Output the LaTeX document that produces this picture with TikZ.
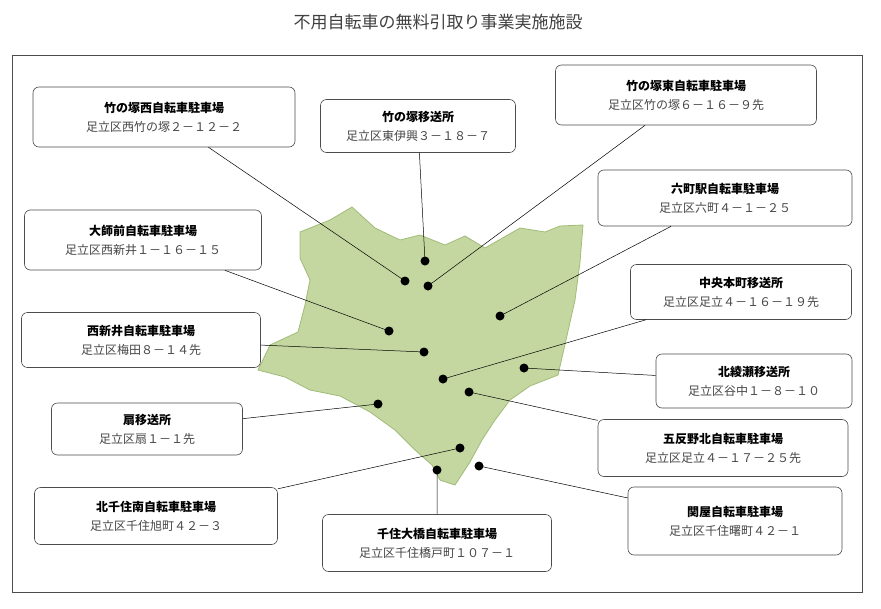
\documentclass[tikz,border=0pt]{standalone}
\usepackage{fontspec}
\setmainfont{Noto Sans CJK JP}
\usetikzlibrary{positioning}
\definecolor{mapfill}{RGB}{196,215,160}
\definecolor{mapline}{RGB}{160,188,120}
\definecolor{addr}{RGB}{70,70,70}
\newcommand{\fac}[2]{\textbf{#1}\\{\color{addr}#2}}
\begin{document}
\begin{tikzpicture}[x=1pt,y=-1pt,
      every node/.style={align=center, inner sep=0pt},
      box/.style={draw=black!70, fill=white, rounded corners=6pt, line width=0.6pt,
        font=\fontsize{12}{19}\selectfont},
      dot/.style={circle, fill=black, minimum size=9pt},
      lead/.style={draw=black, line width=0.5pt},
      ]
      \useasboundingbox (0,0) rectangle (881,608);
      \node[font=\fontsize{17}{20}\selectfont, text=black!75] (title) at (438,22) {不用自転車の無料引取り事業実施施設};
      \draw[black!70, line width=0.6pt] (12,55) rectangle (862,592);

      % map area
      \draw[fill=mapfill, draw=mapline, line width=0.8pt]
        (300,232) -- (330,220) -- (352,207) -- (375,228) -- (400,240) -- (420,235)
        -- (445,245) -- (465,236) -- (485,248) -- (520,228) -- (545,232) -- (560,226)
        -- (583,225) -- (580,262) -- (575,300) -- (566,340) -- (558,375) -- (530,386)
        -- (510,400) -- (495,420) -- (482,440) -- (470,462) -- (455,485) -- (440,480)
        -- (432,465) -- (415,450) -- (395,430) -- (370,412) -- (340,396) -- (310,390)
        -- (285,377) -- (258,370) -- (270,345) -- (298,332) -- (305,305) -- (310,280)
        -- (300,258) -- cycle;

      % facilities
      \node[dot] (d1) at (405,281) {};
      \node[dot] (d2) at (425,261) {};
      \node[dot] (d3) at (428,286) {};
      \node[dot] (d4) at (500,316) {};
      \node[dot] (d5) at (389,331) {};
      \node[dot] (d6) at (443,379) {};
      \node[dot] (d7) at (424,352) {};
      \node[dot] (d8) at (524,368) {};
      \node[dot] (d9) at (378,404) {};
      \node[dot] (d10) at (469,392) {};
      \node[dot] (d11) at (460,448) {};
      \node[dot] (d12) at (437,470) {};
      \node[dot] (d13) at (479,466) {};

      \node[box, minimum width=262pt, minimum height=60pt] (b1) at (164,117)
        {\fac{竹の塚西自転車駐車場}{足立区西竹の塚２－１２－２}};
      \node[box, minimum width=195pt, minimum height=53pt] (b2) at (418,126)
        {\fac{竹の塚移送所}{足立区東伊興３－１８－７}};
      \node[box, minimum width=261pt, minimum height=60pt] (b3) at (686,95)
        {\fac{竹の塚東自転車駐車場}{足立区竹の塚６－１６－９先}};
      \node[box, minimum width=254pt, minimum height=56pt] (b4) at (725,198)
        {\fac{六町駅自転車駐車場}{足立区六町４－１－２５}};
      \node[box, minimum width=237pt, minimum height=60pt] (b5) at (143,240)
        {\fac{大師前自転車駐車場}{足立区西新井１－１６－１５}};
      \node[box, minimum width=221pt, minimum height=55pt] (b6) at (741,292)
        {\fac{中央本町移送所}{足立区足立４－１６－１９先}};
      \node[box, minimum width=239pt, minimum height=55pt] (b7) at (141,340)
        {\fac{西新井自転車駐車場}{足立区梅田８－１４先}};
      \node[box, minimum width=196pt, minimum height=54pt] (b8) at (754,381)
        {\fac{北綾瀬移送所}{足立区谷中１－８－１０}};
      \node[box, minimum width=191pt, minimum height=52pt] (b9) at (147,429)
        {\fac{扇移送所}{足立区扇１－１先}};
      \node[box, minimum width=250pt, minimum height=57pt] (b10) at (723,448)
        {\fac{五反野北自転車駐車場}{足立区足立４－１７－２５先}};
      \node[box, minimum width=243pt, minimum height=57pt] (b11) at (156,516)
        {\fac{北千住南自転車駐車場}{足立区千住旭町４２－３}};
      \node[box, minimum width=229pt, minimum height=57pt] (b12) at (437,543)
        {\fac{千住大橋自転車駐車場}{足立区千住橋戸町１０７－１}};
      \node[box, minimum width=214pt, minimum height=68pt] (b13) at (735,521)
        {\fac{関屋自転車駐車場}{足立区千住曙町４２－１}};

      \path[lead]
      (b1) -- (d1.center)
      (b2) -- (d2.center)
      (b3) -- (d3.center)
      (b4) -- (d4.center)
      (b5) -- (d5.center)
      (b6) -- (d6.center)
      (b7) -- (d7.center)
      (b8) -- (d8.center)
      (b9) -- (d9.center)
      (b10) -- (d10.center)
      (b11) -- (d11.center)
      (b12) -- (d12.center)
      (b13) -- (d13.center)
      ;
\end{tikzpicture}
\end{document}
